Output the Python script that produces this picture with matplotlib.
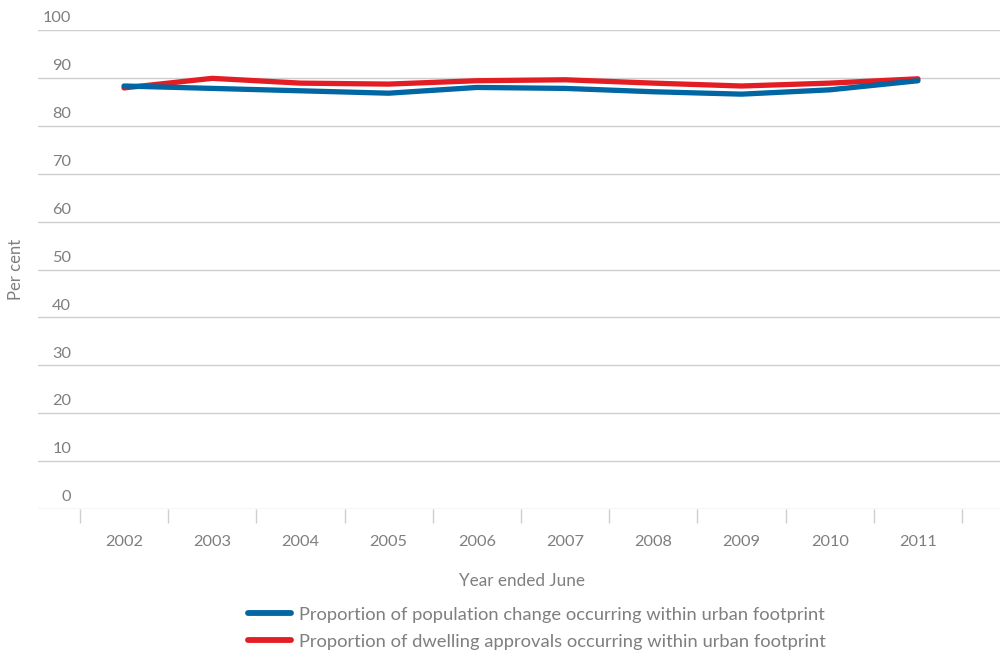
import matplotlib
matplotlib.use("Agg")
import matplotlib.pyplot as plt
from matplotlib.transforms import blended_transform_factory

plt.rcParams['font.family'] = ['Lato', 'DejaVu Sans']

years = ['2002', '2003', '2004', '2005', '2006', '2007', '2008', '2009', '2010', '2011']
population_change = [88.3, 87.8, 87.3, 86.8, 88.0, 87.8, 87.1, 86.6, 87.5, 89.4]
dwelling_approvals = [87.9, 89.9, 88.9, 88.7, 89.4, 89.6, 88.9, 88.3, 88.9, 89.8]
y_ticks = [0, 10, 20, 30, 40, 50, 60, 70, 80, 90, 100]
series_labels = ['Proportion of population change occurring within urban footprint',
                 'Proportion of dwelling approvals occurring within urban footprint']

TEXT = '#7f7f7f'
GRID = '#cfcfcf'
BLUE = '#0066a4'
RED = '#e41c24'

fig = plt.figure(figsize=(10, 6.51), dpi=100)
ax = fig.add_axes([0.038, 0.218, 0.962, 0.736])

x = list(range(len(years)))
l1, = ax.plot(x, population_change, color=BLUE, lw=3.8, solid_capstyle='round', zorder=3)
l2, = ax.plot(x, dwelling_approvals, color=RED, lw=3.8, solid_capstyle='round', zorder=2)

ax.set_ylim(0, 100)
ax.set_xlim(-0.975, 9.93)

for s in ax.spines.values():
    s.set_visible(False)

# horizontal gridlines
ax.set_yticks(y_ticks)
ax.set_yticklabels([])
ax.tick_params(axis='y', length=0)
ax.yaxis.grid(True, color=GRID, lw=1.0)
ax.set_axisbelow(True)

# y value labels sit above their gridline
trans = blended_transform_factory(ax.transAxes, ax.transData)
for v in y_ticks:
    ax.annotate(str(v), xy=(0.0345, v), xycoords=trans, xytext=(0, 8.5),
                textcoords='offset points', ha='right', va='center',
                fontsize=11.8, color=TEXT, annotation_clip=False)

# category boundaries as ticks, labels at category centres
ax.set_xticks([i - 0.5 for i in range(len(years) + 1)])
ax.set_xticklabels([])
ax.tick_params(axis='x', which='major', length=10, width=1, color=GRID, direction='out')
ax.set_xticks(x, minor=True)
ax.set_xticklabels(years, minor=True)
ax.tick_params(axis='x', which='minor', length=0, pad=19, labelsize=11.8, labelcolor=TEXT)

ax.set_ylabel('Per cent', fontsize=12, color=TEXT)
ax.yaxis.set_label_coords(-0.015, 0.5)
ax.set_xlabel('Year ended June', fontsize=12.3, color=TEXT)
ax.xaxis.set_label_coords(0.503, -0.134)

leg = fig.legend([l1, l2], series_labels, loc='center', bbox_to_anchor=(0.537, 0.035),
                 frameon=False, fontsize=13.2, handlelength=2.3, handletextpad=0.45,
                 labelspacing=0.62)
for t in leg.get_texts():
    t.set_color(TEXT)
for h in leg.get_lines():
    h.set_linewidth(4.2)
    h.set_solid_capstyle('round')

fig.savefig('out.png', dpi=100)
